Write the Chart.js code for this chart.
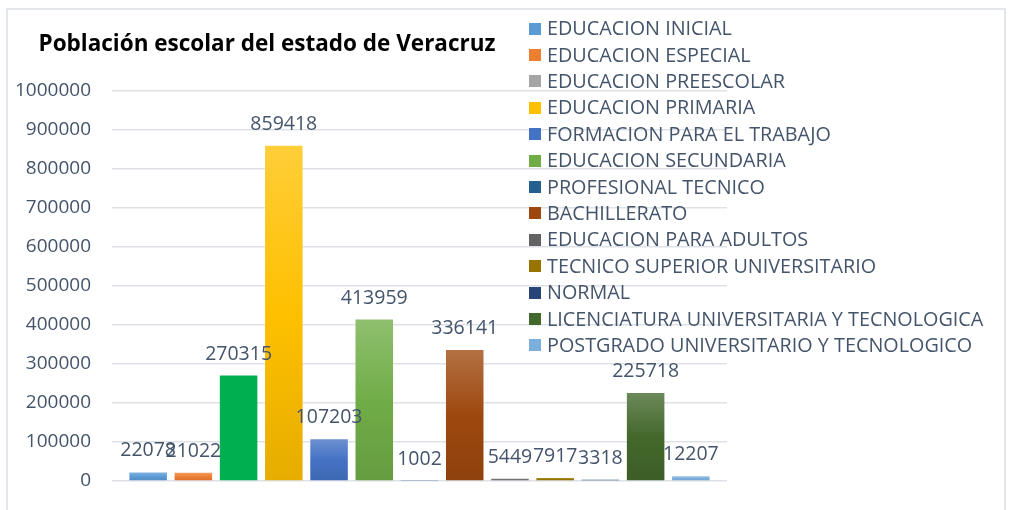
<!DOCTYPE html>
<html lang="es">
<head>
<meta charset="utf-8" />
<title>Población escolar del estado de Veracruz</title>
<style>
    html, body {
        margin: 0;
        padding: 0;
        background: #fff;
    }

    #wrap {
        position: relative;
        width: 1013px;
        height: 510px;
        overflow: hidden;
    }

    #frame {
        position: absolute;
        left: 6px;
        top: 8px;
        width: 1000px;
        height: 530px;
        border: 2px solid #E3E6EA;
        box-sizing: border-box;
    }

    #chart {
        position: absolute;
        left: 0;
        top: 0;
    }
</style>
</head>
<body>
<div id="wrap">
    <div id="frame"></div>
    <canvas id="chart" width="1013" height="510"></canvas>
</div>

<script src="https://cdn.jsdelivr.net/npm/chart.js@4.4.3/dist/chart.umd.min.js"></script>
<script>
    const chartTitle = 'Población escolar del estado de Veracruz';

    const categories = [
        'EDUCACION INICIAL',
        'EDUCACION ESPECIAL',
        'EDUCACION PREESCOLAR',
        'EDUCACION PRIMARIA',
        'FORMACION PARA EL TRABAJO',
        'EDUCACION SECUNDARIA',
        'PROFESIONAL TECNICO',
        'BACHILLERATO',
        'EDUCACION PARA ADULTOS',
        'TECNICO SUPERIOR UNIVERSITARIO',
        'NORMAL',
        'LICENCIATURA UNIVERSITARIA Y TECNOLOGICA',
        'POSTGRADO UNIVERSITARIO Y TECNOLOGICO'
    ];

    const values = [22078, 21022, 270315, 859418, 107203, 413959, 1002, 336141, 5449, 7917, 3318, 225718, 12207];

    // y axis range
    const yMin = 0;
    const yMax = 1000000;
    const yStep = 100000;

    // styles
    const barColors = ['#5B9BD5', '#ED7D31', '#00B050', '#FFC000', '#4472C4', '#70AD47', '#255E91',
        '#9E480E', '#636363', '#997300', '#264478', '#43682B', '#7CAFDD'];
    const legendColors = ['#5B9BD5', '#ED7D31', '#A5A5A5', '#FFC000', '#4472C4', '#70AD47', '#255E91',
        '#9E480E', '#636363', '#997300', '#264478', '#43682B', '#7CAFDD'];
    const barGradient = [true, true, false, true, true, true, true, true, true, true, true, true, true];

    const textColor = '#44546A';
    const fontFamily = "'Open Sans', 'DejaVu Sans', sans-serif";

    function mix(hex, other, t) {
        const a = parseInt(hex.slice(1), 16);
        const b = parseInt(other.slice(1), 16);
        const ch = (v, s) => (v >> s) & 0xFF;
        const c = [16, 8, 0].map(s => Math.round(ch(a, s) * (1 - t) + ch(b, s) * t));
        return `rgb(${c[0]}, ${c[1]}, ${c[2]})`;
    }

    function barFill(ctx, i) {
        const chart = ctx.chart;
        const base = barColors[i];
        if (!chart.chartArea || !barGradient[i]) {
            return base;
        }
        const y = chart.scales.y;
        const top = y.getPixelForValue(values[i]);
        const bottom = y.getPixelForValue(0);
        if (!isFinite(top) || bottom - top < 2) {
            return base;
        }
        const g = chart.ctx.createLinearGradient(0, top, 0, bottom);
        g.addColorStop(0, mix(base, '#ffffff', 0.22));
        g.addColorStop(0.5, base);
        g.addColorStop(1, mix(base, '#000000', 0.1));
        return g;
    }

    // title + legend drawn over the plot, like the spreadsheet original
    const titleLegendPlugin = {
        id: 'titleLegend',
        afterDraw(chart) {
            const c = chart.ctx;
            c.save();
            c.fillStyle = '#000';
            c.font = `bold 22.5px ${fontFamily}`;
            c.textAlign = 'center';
            c.textBaseline = 'alphabetic';
            c.fillText(chartTitle, 267, 51);

            c.font = `19.8px ${fontFamily}`;
            c.textAlign = 'left';
            c.textBaseline = 'middle';
            categories.forEach((name, i) => {
                const cy = 28.7 + i * 26.38;
                c.fillStyle = legendColors[i];
                c.fillRect(529, Math.round(cy - 6), 12, 12);
                c.fillStyle = textColor;
                c.fillText(name, 547, cy + 1);
            });
            c.restore();
        }
    };

    const valueLabelPlugin = {
        id: 'valueLabels',
        afterDatasetsDraw(chart) {
            const c = chart.ctx;
            c.save();
            c.font = `19.5px ${fontFamily}`;
            c.fillStyle = textColor;
            c.textAlign = 'center';
            c.textBaseline = 'alphabetic';
            chart.data.datasets.forEach((ds, i) => {
                const bar = chart.getDatasetMeta(i).data[0];
                if (!bar) return;
                c.fillText(String(ds.data[0]), bar.x, bar.y - 16);
            });
            c.restore();
        }
    };

    const datasets = categories.map((name, i) => ({
        label: name,
        data: [values[i]],
        backgroundColor: (ctx) => barFill(ctx, i),
        borderWidth: 0,
        categoryPercentage: 0.956,
        barPercentage: 0.83
    }));

    new Chart(document.getElementById('chart'), {
        type: 'bar',
        data: {
            labels: [''],
            datasets: datasets
        },
        options: {
            responsive: false,
            animation: false,
            layout: {
                padding: { top: 91, right: 286, bottom: 29, left: 12 }
            },
            plugins: {
                legend: { display: false },
                title: { display: false },
                tooltip: { enabled: false }
            },
            scales: {
                x: {
                    display: false
                },
                y: {
                    min: yMin,
                    max: yMax,
                    afterFit: (scale) => { scale.width = 100; },
                    ticks: {
                        stepSize: yStep,
                        padding: 0,
                        color: textColor,
                        font: { family: fontFamily, size: 19 },
                        callback: (v) => String(v)
                    },
                    grid: {
                        color: '#DEE2E7',
                        lineWidth: 1.5,
                        drawTicks: true,
                        tickLength: 21,
                        tickColor: 'rgba(0,0,0,0)'
                    },
                    border: { display: false }
                }
            }
        },
        plugins: [titleLegendPlugin, valueLabelPlugin]
    });
</script>
</body>
</html>
